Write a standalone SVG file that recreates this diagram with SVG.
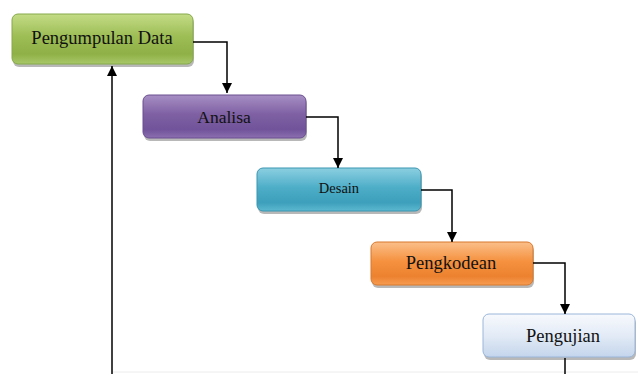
<svg xmlns="http://www.w3.org/2000/svg" width="638" height="374" viewBox="0 0 638 374">
<defs>
<linearGradient id="gGreen" x1="0" y1="0" x2="0" y2="1">
<stop offset="0" stop-color="#c3dc86"/><stop offset="0.45" stop-color="#9dbd55"/><stop offset="0.8" stop-color="#8fb046"/><stop offset="1" stop-color="#a8c86a"/>
</linearGradient>
<linearGradient id="gPurple" x1="0" y1="0" x2="0" y2="1">
<stop offset="0" stop-color="#a78fc4"/><stop offset="0.45" stop-color="#7e60a3"/><stop offset="0.8" stop-color="#70539a"/><stop offset="1" stop-color="#8b6fb0"/>
</linearGradient>
<linearGradient id="gTeal" x1="0" y1="0" x2="0" y2="1">
<stop offset="0" stop-color="#8ccfe1"/><stop offset="0.45" stop-color="#4eaec8"/><stop offset="0.8" stop-color="#3d9fbb"/><stop offset="1" stop-color="#5cb8d0"/>
</linearGradient>
<linearGradient id="gOrange" x1="0" y1="0" x2="0" y2="1">
<stop offset="0" stop-color="#fbbf8a"/><stop offset="0.45" stop-color="#f5913f"/><stop offset="0.8" stop-color="#ec8230"/><stop offset="1" stop-color="#f79c52"/>
</linearGradient>
<linearGradient id="gBlue" x1="0" y1="0" x2="0" y2="1">
<stop offset="0" stop-color="#f7f9fd"/><stop offset="0.5" stop-color="#e3ebf6"/><stop offset="1" stop-color="#c4d5ec"/>
</linearGradient>
<marker id="arr" viewBox="0 0 10 10" refX="10" refY="5" markerWidth="10" markerHeight="10" markerUnits="userSpaceOnUse" orient="auto">
<path d="M0,0 L10,5 L0,10 z" fill="#000"/>
</marker>
</defs>
<style>
.lbl{font-family:"Liberation Serif","DejaVu Serif",serif;fill:#111;text-anchor:middle;dominant-baseline:central}
.sh{fill:#000;opacity:0.28}
.con{fill:none;stroke:#000;stroke-width:1.5}
</style>
<line x1="112" y1="372" x2="638" y2="372" stroke="#ececec" stroke-width="1"/>
<g id="pengumpulan">
<rect class="sh" x="13" y="17" width="181" height="50" rx="6"/>
<rect x="12" y="14" width="181" height="50" rx="6" fill="url(#gGreen)" stroke="#86a84a" stroke-width="1"/>
<text class="lbl" x="102" y="38" font-size="18.5">Pengumpulan Data</text>
</g>
<g id="analisa">
<rect class="sh" x="144" y="98" width="163" height="43" rx="6"/>
<rect x="143" y="95" width="163" height="43" rx="6" fill="url(#gPurple)" stroke="#6a4f90" stroke-width="1"/>
<text class="lbl" x="224" y="117" font-size="17.5">Analisa</text>
</g>
<g id="desain">
<rect class="sh" x="258" y="171" width="164" height="43" rx="6"/>
<rect x="257" y="168" width="164" height="43" rx="6" fill="url(#gTeal)" stroke="#3a95b0" stroke-width="1"/>
<text class="lbl" x="339" y="188" font-size="14.5">Desain</text>
</g>
<g id="pengkodean">
<rect class="sh" x="372" y="245" width="162" height="43" rx="6"/>
<rect x="371" y="242" width="162" height="43" rx="6" fill="url(#gOrange)" stroke="#d8782c" stroke-width="1"/>
<text class="lbl" x="451" y="263" font-size="18.5">Pengkodean</text>
</g>
<g id="pengujian">
<rect class="sh" x="484" y="317" width="152" height="43" rx="6"/>
<rect x="483" y="314" width="152" height="43" rx="6" fill="url(#gBlue)" stroke="#9ab6da" stroke-width="1"/>
<text class="lbl" x="563" y="336" font-size="18.5">Pengujian</text>
</g>
<g id="connectors">
<path class="con" d="M193,42 H227 V93" marker-end="url(#arr)"/>
<path class="con" d="M306,117 H338 V168" marker-end="url(#arr)"/>
<path class="con" d="M421,190 H452 V242" marker-end="url(#arr)"/>
<path class="con" d="M533,263 H565 V314" marker-end="url(#arr)"/>
<path class="con" d="M565,358 V374"/>
<path class="con" stroke-width="2" d="M112,374 V66" marker-end="url(#arr)"/>
</g>
</svg>
